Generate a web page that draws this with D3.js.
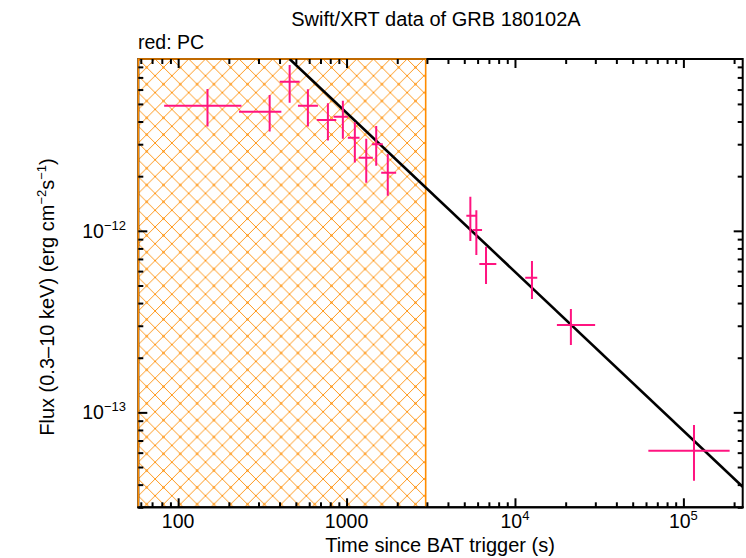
<!DOCTYPE html>
<html><head><meta charset="utf-8">
<script src="https://cdn.jsdelivr.net/npm/d3@7"></script>
<style>
html,body{margin:0;padding:0;background:#fff;}
svg{display:block;font-family:"Liberation Sans",Arial,Helvetica,sans-serif;}
</style></head>
<body>
<svg id="chart" width="746" height="558"></svg>
<script>
// ---- data ----
const times = [149.4, 349.5, 459.3, 589.5, 774.9, 950.8, 1120, 1309, 1500, 1757, 5433, 5897, 6731, 12616, 21480, 115600];
const timeLo = [82.6, 229.9, 400.8, 514.4, 666.7, 837.4, 1018, 1183, 1413, 1606, 5143, 5607, 6143, 11510, 17740, 61940];
const timeHi = [237.6, 410.1, 526.5, 676.0, 868.6, 1018, 1194, 1432, 1641, 1970, 5872, 6375, 7749, 13560, 29920, 188200];
const flux = [4.89e-12, 4.53e-12, 6.63e-12, 4.89e-12, 4.08e-12, 4.25e-12, 3.26e-12, 2.53e-12, 3.00e-12, 2.09e-12, 1.21e-12, 1.01e-12, 6.56e-13, 5.52e-13, 3.03e-13, 6.14e-14];
const fluxLo = [3.75e-12, 3.52e-12, 5.08e-12, 3.75e-12, 3.14e-12, 3.21e-12, 2.38e-12, 1.84e-12, 2.28e-12, 1.56e-12, 8.79e-13, 7.36e-13, 5.09e-13, 4.21e-13, 2.35e-13, 4.20e-14];
const fluxHi = [6.04e-12, 5.60e-12, 8.19e-12, 6.02e-12, 5.04e-12, 5.21e-12, 3.96e-12, 3.21e-12, 3.78e-12, 2.65e-12, 1.54e-12, 1.30e-12, 8.17e-13, 6.82e-13, 3.71e-13, 8.51e-14];
const fitTime = [459, 225000];
const fitFlux = [8.84e-12, 3.89e-14];
const hatchTime = [58, 2950];
const xDomain = [58, 225000];
const yDomain = [3.0e-14, 8.84e-12];
const xMajor = [100, 1000, 1e4, 1e5];
const xMajorBase = ["100", "1000", "10", "10"];
const xMajorSup = ["", "", "4", "5"];
const yMajor = [1e-12, 1e-13];
const yMajorBase = ["10", "10"];
const yMajorSup = ["\u221212", "\u221213"];
const titleText = "Swift/XRT data of GRB 180102A";
const subText = "red: PC";
const xTitle = "Time since BAT trigger (s)";

// ---- layout ----
const L = 138.3, R = 742.7, T = 59, B = 507.3;
const svg = d3.select("#chart");
const x = d3.scaleLog().domain(xDomain).range([L, R]);
const y = d3.scaleLog().domain(yDomain).range([B, T]);

const orange = "#ff8c00", pink = "#ff1480";

function minors(dom) {
  const out = [];
  const lo = Math.floor(Math.log10(dom[0])), hi = Math.ceil(Math.log10(dom[1]));
  for (let e = lo; e <= hi; e++) for (let m = 1; m <= 9; m++) {
    const v = m * Math.pow(10, e);
    if (v >= dom[0] && v <= dom[1]) out.push(v);
  }
  return out;
}
const xMinor = minors(xDomain).filter(v => !xMajor.some(m => Math.abs(m - v) / m < 1e-9));
const yMinor = minors(yDomain).filter(v => !yMajor.some(m => Math.abs(m - v) / m < 1e-9));

// hatch pattern
const defs = svg.append("defs");
const w = 16.8;
const pat = defs.append("pattern").attr("id", "hatch").attr("patternUnits", "userSpaceOnUse")
  .attr("width", w).attr("height", w).attr("x", L).attr("y", T);
pat.append("path")
  .attr("d", `M${-w/2},${w/2} L${w/2},${-w/2} M0,${w} L${w},0 M${w/2},${w*1.5} L${w*1.5},${w/2} M${-w/2},${w/2} L${w/2},${w*1.5} M0,0 L${w},${w} M${w/2},${-w/2} L${w*1.5},${w/2}`)
  .attr("stroke", orange).attr("stroke-width", 0.9).attr("fill", "none")
  .attr("shape-rendering", "crispEdges");
[[w/2, w/2]].forEach(p => pat.append("rect").attr("x", p[0] - 1).attr("y", p[1] - 1)
  .attr("width", 2).attr("height", 2).attr("fill", orange));

defs.append("clipPath").attr("id", "plotclip").append("rect")
  .attr("x", L).attr("y", T).attr("width", R - L).attr("height", B - T);

// hatch fill
const hx0 = x(hatchTime[0]), hx1 = x(hatchTime[1]);
svg.append("rect").attr("x", hx0).attr("y", T).attr("width", hx1 - hx0).attr("height", B - T)
  .attr("fill", "url(#hatch)");

// frame
svg.append("rect").attr("x", L).attr("y", T).attr("width", R - L).attr("height", B - T)
  .attr("fill", "none").attr("stroke", "#000").attr("stroke-width", 2);

// orange border of hatch region (top, left, right)
svg.append("path")
  .attr("d", `M${hx0},${B} L${hx0},${T} L${hx1},${T} L${hx1},${B}`)
  .attr("fill", "none").attr("stroke", orange).attr("stroke-width", 1.6);
svg.append("line").attr("x1", L - 1).attr("x2", R + 1).attr("y1", B).attr("y2", B)
  .attr("stroke", "#000").attr("stroke-width", 2);

// ticks via d3 axes (inward)
function drawAxis(axisFn, scale, vals, size, transform) {
  const g = svg.append("g").attr("transform", transform)
    .call(axisFn(scale).tickValues(vals).tickSize(size).tickFormat(""));
  g.select(".domain").remove();
  g.selectAll(".tick line").attr("stroke", "#000").attr("stroke-width", 2);
}
const MJ = 9, MN = 5;
drawAxis(d3.axisBottom, x, xMajor, -MJ, `translate(0,${B})`);
drawAxis(d3.axisBottom, x, xMinor, -MN, `translate(0,${B})`);
drawAxis(d3.axisTop, x, xMajor, -MJ, `translate(0,${T})`);
drawAxis(d3.axisTop, x, xMinor, -MN, `translate(0,${T})`);
drawAxis(d3.axisLeft, y, yMajor, -MJ, `translate(${L},0)`);
drawAxis(d3.axisLeft, y, yMinor, -MN, `translate(${L},0)`);
drawAxis(d3.axisRight, y, yMajor, -MJ, `translate(${R},0)`);
drawAxis(d3.axisRight, y, yMinor, -MN, `translate(${R},0)`);

// tick labels
const FS = 19.5, SFS = 13;
xMajor.forEach((v, i) => {
  const t = svg.append("text").attr("x", x(v)).attr("y", 528).attr("text-anchor", "middle")
    .attr("font-size", FS).attr("fill", "#000");
  t.append("tspan").text(xMajorBase[i]);
  if (xMajorSup[i]) t.append("tspan").attr("font-size", SFS).attr("dy", -8).text(xMajorSup[i]);
});
yMajor.forEach((v, i) => {
  const t = svg.append("text").attr("x", 126).attr("y", y(v) + 7).attr("text-anchor", "end")
    .attr("font-size", FS).attr("fill", "#000");
  t.append("tspan").text(yMajorBase[i]);
  t.append("tspan").attr("font-size", SFS).attr("dy", -8).text(yMajorSup[i]);
});

// fit line
const plot = svg.append("g").attr("clip-path", "url(#plotclip)");
plot.append("path")
  .datum(fitTime.map((t, i) => [t, fitFlux[i]]))
  .attr("d", d3.line().x(d => x(d[0])).y(d => y(d[1])))
  .attr("stroke", "#000").attr("stroke-width", 2.6).attr("fill", "none");

// data error bars
const pts = times.map((t, i) => ({t, lo: timeLo[i], hi: timeHi[i], f: flux[i], flo: fluxLo[i], fhi: fluxHi[i]}));
const eg = plot.append("g").attr("stroke", pink).attr("stroke-width", 2);
eg.selectAll("line.h").data(pts).join("line").attr("class", "h")
  .attr("x1", d => x(d.lo)).attr("x2", d => x(d.hi)).attr("y1", d => y(d.f)).attr("y2", d => y(d.f));
eg.selectAll("line.v").data(pts).join("line").attr("class", "v")
  .attr("x1", d => x(d.t)).attr("x2", d => x(d.t)).attr("y1", d => y(d.flo)).attr("y2", d => y(d.fhi));

// titles
svg.append("text").attr("x", 436).attr("y", 26).attr("text-anchor", "middle")
  .attr("font-size", 20).attr("fill", "#000").text(titleText);
svg.append("text").attr("x", 138).attr("y", 49).attr("font-size", 19.5)
  .attr("fill", "#000").text(subText);
svg.append("text").attr("x", 440).attr("y", 552).attr("text-anchor", "middle")
  .attr("font-size", 20).attr("fill", "#000").text(xTitle);
const yt = svg.append("text").attr("transform", "translate(54,297) rotate(-90)")
  .attr("text-anchor", "middle").attr("font-size", 20).attr("fill", "#000");
yt.append("tspan").text("Flux (0.3\u201310 keV) (erg cm");
yt.append("tspan").attr("font-size", SFS).attr("dy", -8).text("\u22122");
yt.append("tspan").attr("dy", 8).text("s");
yt.append("tspan").attr("font-size", SFS).attr("dy", -8).text("\u22121");
yt.append("tspan").attr("dy", 8).text(")");
</script>
</body></html>
